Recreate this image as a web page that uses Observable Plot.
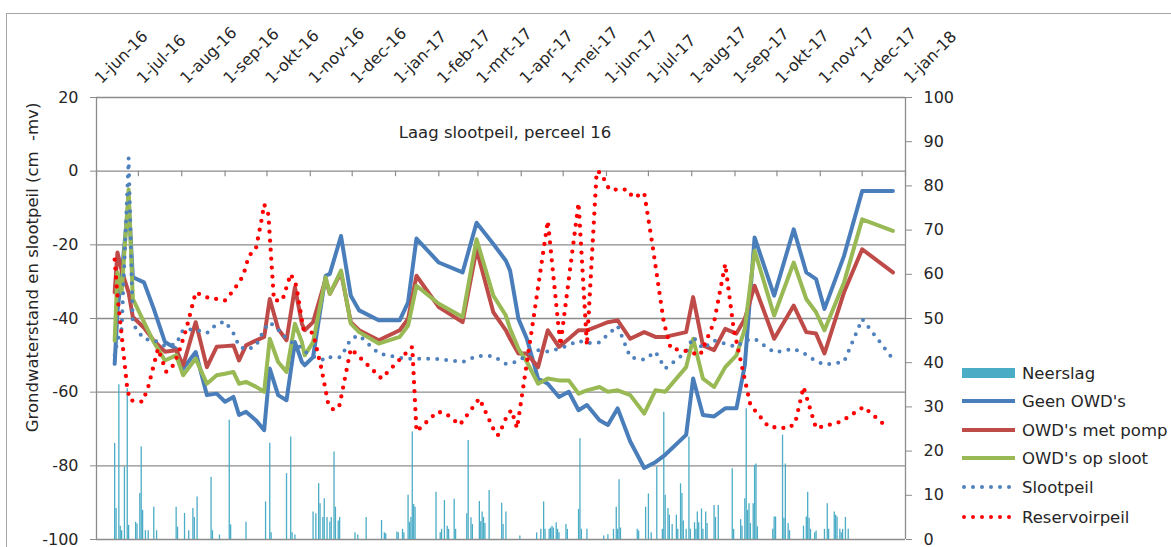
<!DOCTYPE html>
<html><head><meta charset="utf-8">
<script src="https://cdn.jsdelivr.net/npm/d3@7"></script>
<script src="https://cdn.jsdelivr.net/npm/@observablehq/plot@0.6"></script>
<style>
html,body{margin:0;padding:0;background:#fff;overflow:hidden}
#wrap{position:relative;width:1171px;height:547px;overflow:hidden;font-family:"DejaVu Sans",sans-serif;color:#262626;background:#fff}
#border{position:absolute;left:6px;top:13px;width:1300px;height:700px;border:1.5px solid #a6a6a6;box-sizing:border-box;z-index:5;pointer-events:none;background:none}
#chart{position:absolute;left:0;top:0;z-index:1}
#legend{position:absolute;left:958px;top:355px;z-index:2}
</style></head><body>
<div id="wrap"><div id="border"></div><div id="chart"></div>
<svg id="legend" width="213" height="180" font-family="DejaVu Sans" font-size="16.5" fill="#262626">
  <rect x="4" y="13" width="53" height="10" fill="#4BACC6"/>
  <text x="64" y="18" dominant-baseline="central">Neerslag</text>
  <line x1="4" x2="57" y1="46" y2="46" stroke="#4A7EBB" stroke-width="4"/>
  <text x="64" y="46" dominant-baseline="central">Geen OWD's</text>
  <line x1="4" x2="57" y1="75" y2="75" stroke="#BE4B48" stroke-width="4"/>
  <text x="64" y="75" dominant-baseline="central">OWD's met pomp</text>
  <line x1="4" x2="57" y1="103" y2="103" stroke="#98B954" stroke-width="4"/>
  <text x="64" y="103" dominant-baseline="central">OWD's op sloot</text>
  <line x1="6" x2="57" y1="132" y2="132" stroke="#4F81BD" stroke-width="4" stroke-linecap="round" stroke-dasharray="0 9"/>
  <text x="64" y="132" dominant-baseline="central">Slootpeil</text>
  <line x1="6" x2="57" y1="162" y2="162" stroke="#FF0000" stroke-width="4" stroke-linecap="round" stroke-dasharray="0 9"/>
  <text x="64" y="162" dominant-baseline="central">Reservoirpeil</text>
</svg>
</div>
<script>
// ---- tick labels ----
const maandDatums = ["2016-06-01","2016-07-01","2016-08-01","2016-09-01","2016-10-01","2016-11-01","2016-12-01","2017-01-01","2017-02-01","2017-03-01","2017-04-01","2017-05-01","2017-06-01","2017-07-01","2017-08-01","2017-09-01","2017-10-01","2017-11-01","2017-12-01","2018-01-01"];
const maandLabels = ["1-jun-16","1-jul-16","1-aug-16","1-sep-16","1-okt-16","1-nov-16","1-dec-16","1-jan-17","1-feb-17","1-mrt-17","1-apr-17","1-mei-17","1-jun-17","1-jul-17","1-aug-17","1-sep-17","1-okt-17","1-nov-17","1-dec-17","1-jan-18"];
const linksTicks = [20, 0, -20, -40, -60, -80, -100];
const rechtsTicks = [0, 10, 20, 30, 40, 50, 60, 70, 80, 90, 100];

// ---- groundwater measurements (cm -mv) ----
const meetDatums = ["2016-06-14","2016-06-16","2016-06-19","2016-06-24","2016-06-27","2016-07-05","2016-07-12","2016-07-20","2016-07-28","2016-08-02","2016-08-11","2016-08-19","2016-08-26","2016-09-01","2016-09-07","2016-09-11","2016-09-16","2016-09-23","2016-09-29","2016-10-03","2016-10-09","2016-10-15","2016-10-21","2016-10-26","2016-10-28","2016-11-03","2016-11-12","2016-11-15","2016-11-23","2016-11-30","2016-12-06","2016-12-20","2017-01-04","2017-01-10","2017-01-16","2017-02-01","2017-02-18","2017-02-28","2017-03-12","2017-03-21","2017-03-24","2017-03-30","2017-04-05","2017-04-13","2017-04-20","2017-04-28","2017-05-05","2017-05-12","2017-05-18","2017-05-27","2017-06-02","2017-06-09","2017-06-18","2017-06-28","2017-07-06","2017-07-13","2017-07-28","2017-08-02","2017-08-09","2017-08-17","2017-08-25","2017-09-02","2017-09-08","2017-09-15","2017-09-29","2017-10-13","2017-10-22","2017-10-29","2017-11-04","2017-11-18","2017-12-01","2017-12-23"];
const geenOWD = [-52.3,-38,-28,-8,-28.8,-30.2,-37.4,-46.4,-48.2,-53.6,-49.1,-60.8,-60.4,-62.6,-61.3,-66.2,-65.3,-67.6,-70.3,-53.6,-60.8,-62.2,-46.4,-51.8,-52.7,-50.5,-28.4,-27.9,-17.6,-33.8,-37.8,-40.5,-40.5,-35.6,-18.3,-24.8,-27.5,-14,-19.8,-24.3,-27,-40.1,-45.5,-56.3,-57.7,-61.3,-59.9,-64.9,-63.5,-67.6,-68.9,-64.4,-73.4,-80.6,-79,-77,-71.6,-56.3,-66.2,-66.6,-64.4,-64.4,-52.7,-18,-33.8,-15.8,-27.5,-29.3,-37.4,-23,-5.4,-5.4];
const owdMetPomp = [-32.9,-22.1,-27,-33,-39.6,-42.5,-46,-49,-48.6,-52.7,-41,-53.2,-47.7,-47.5,-47.3,-51.4,-47.3,-46,-45,-34.7,-42.8,-45.9,-31.5,-41.4,-43.2,-41,-29.3,-33.3,-27.5,-41,-43.2,-45.9,-43.2,-40.1,-28.4,-36.9,-41,-21.2,-38.3,-43.2,-45.5,-49.5,-49.5,-53.2,-43.2,-47.7,-45.5,-43.2,-43.2,-41.9,-41,-40.5,-45.5,-43.7,-45,-45,-43.7,-34.2,-47.3,-48.6,-42.8,-44.1,-40.1,-31.1,-45.5,-36.5,-43.7,-44.1,-49.5,-32.9,-21.2,-27.5];
const owdOpSloot = [-46,-27.5,-33,-5,-34.7,-41,-46.4,-51.4,-50,-55.4,-50.9,-57.7,-55.4,-55,-54.5,-57.7,-57.2,-58.5,-59.9,-45.5,-51.8,-54.5,-41.4,-46.4,-50,-46.4,-28.8,-33.3,-27,-41.4,-43.7,-46.8,-45,-41.9,-31.1,-36,-39.6,-18.5,-33.8,-39.2,-42.8,-48.2,-51.8,-57.7,-56.3,-56.8,-56.8,-60.4,-59.5,-58.6,-59.9,-59.5,-60.8,-65.8,-59.5,-59.9,-53.2,-45.5,-56.3,-58.6,-53.2,-50,-42.8,-21.6,-39.2,-24.8,-34.7,-38.3,-43.2,-30.2,-13.1,-16.2];
const slootpeil = [-50,-46,-42.8,3.6,-41.5,-45.6,-45.8,-47.5,-47,-43,-43,-44,-41.5,-40.8,-44,-47.5,-48.5,-47.5,-43,-41,-43,-45.5,-47,-48,-49,-50.3,-51.4,-50.5,-50.5,-45.5,-44.6,-49.5,-50.7,-50.9,-50.9,-51,-51.8,-50.2,-50.2,-52.3,-52.3,-51.5,-50,-48.6,-49,-48.2,-47.2,-46,-46.7,-46.5,-44.3,-42,-50.5,-51.2,-49,-53.6,-49.1,-45,-48.2,-46,-46.8,-47.7,-46,-45.5,-49.2,-48.2,-49.8,-51.6,-52.5,-51.8,-40.1,-51];

// ---- reservoir level (cm -mv) ----
const reservoirDatums = ["2016-06-14","2016-06-16","2016-06-23","2016-06-25","2016-07-04","2016-07-08","2016-07-15","2016-07-21","2016-07-26","2016-07-30","2016-08-04","2016-08-11","2016-08-18","2016-09-01","2016-09-07","2016-09-14","2016-09-18","2016-09-23","2016-09-27","2016-09-29","2016-10-02","2016-10-06","2016-10-12","2016-10-18","2016-10-22","2016-10-27","2016-11-03","2016-11-09","2016-11-14","2016-11-18","2016-11-22","2016-11-30","2016-12-22","2017-01-01","2017-01-13","2017-01-16","2017-01-31","2017-02-06","2017-02-16","2017-03-02","2017-03-14","2017-03-16","2017-03-22","2017-03-25","2017-03-29","2017-04-09","2017-04-20","2017-04-29","2017-05-12","2017-05-18","2017-05-25","2017-05-28","2017-06-03","2017-06-16","2017-06-20","2017-06-28","2017-07-04","2017-07-12","2017-07-17","2017-07-26","2017-08-07","2017-08-17","2017-08-25","2017-08-31","2017-09-12","2017-09-25","2017-10-09","2017-10-14","2017-10-20","2017-10-29","2017-11-16","2017-12-02","2017-12-17"];
const reservoirpeil = [-24,-33.8,-59,-62.2,-62.6,-58.6,-48.2,-54.5,-52.7,-49.1,-43.2,-32.9,-34.2,-35.1,-32.4,-28.4,-23,-21.2,-13.5,-9,-11.7,-35.1,-35.1,-27.9,-31.1,-42.8,-44,-53.6,-63.5,-64.9,-63.5,-48.2,-56.3,-52.3,-47.7,-70.7,-65.3,-65.8,-68.9,-61.7,-71.6,-71.6,-66.2,-64.9,-69.8,-41.9,-13.5,-47.3,-8.6,-47.3,0,-0.5,-5,-5,-7.2,-5.9,-20.3,-41,-48.2,-48.6,-50,-41,-25.2,-42.8,-63.5,-69.4,-69.8,-68.5,-58.6,-69.8,-68,-64,-68.9];

// ---- precipitation (mm/day, right axis) ----
const neerslagDatums = ["2016-06-14","2016-06-15","2016-06-17","2016-06-18","2016-06-19","2016-06-21","2016-06-23","2016-06-24","2016-06-29","2016-06-30","2016-07-02","2016-07-03","2016-07-04","2016-07-06","2016-07-08","2016-07-12","2016-07-14","2016-07-28","2016-07-29","2016-08-03","2016-08-06","2016-08-09","2016-08-10","2016-08-12","2016-08-22","2016-08-23","2016-08-28","2016-09-04","2016-09-05","2016-09-16","2016-09-30","2016-10-03","2016-10-04","2016-10-15","2016-10-18","2016-10-19","2016-10-21","2016-11-03","2016-11-05","2016-11-07","2016-11-08","2016-11-10","2016-11-11","2016-11-13","2016-11-15","2016-11-16","2016-11-18","2016-11-19","2016-11-21","2016-11-22","2016-12-03","2016-12-05","2016-12-11","2016-12-22","2016-12-24","2016-12-25","2017-01-02","2017-01-03","2017-01-06","2017-01-07","2017-01-10","2017-01-11","2017-01-12","2017-01-13","2017-01-14","2017-01-15","2017-01-30","2017-02-02","2017-02-03","2017-02-05","2017-02-07","2017-02-08","2017-02-12","2017-02-13","2017-02-21","2017-02-22","2017-02-24","2017-02-25","2017-03-02","2017-03-03","2017-03-04","2017-03-05","2017-03-06","2017-03-09","2017-03-18","2017-03-19","2017-03-21","2017-03-31","2017-04-12","2017-04-15","2017-04-17","2017-04-18","2017-04-21","2017-04-22","2017-04-23","2017-04-24","2017-04-26","2017-04-27","2017-04-28","2017-05-03","2017-05-04","2017-05-12","2017-05-13","2017-05-14","2017-05-18","2017-05-30","2017-06-02","2017-06-06","2017-06-08","2017-06-09","2017-06-10","2017-06-11","2017-06-23","2017-06-24","2017-06-29","2017-07-01","2017-07-03","2017-07-07","2017-07-11","2017-07-12","2017-07-13","2017-07-15","2017-07-16","2017-07-18","2017-07-21","2017-07-22","2017-07-24","2017-07-25","2017-07-26","2017-07-28","2017-07-30","2017-07-31","2017-08-03","2017-08-04","2017-08-05","2017-08-06","2017-08-08","2017-08-09","2017-08-11","2017-08-12","2017-08-17","2017-08-18","2017-08-20","2017-08-30","2017-08-31","2017-09-05","2017-09-06","2017-09-08","2017-09-09","2017-09-10","2017-09-11","2017-09-12","2017-09-14","2017-09-15","2017-09-16","2017-09-17","2017-09-28","2017-09-29","2017-09-30","2017-10-05","2017-10-06","2017-10-07","2017-10-09","2017-10-10","2017-10-20","2017-10-22","2017-10-23","2017-10-24","2017-10-25","2017-10-28","2017-10-29","2017-11-04","2017-11-06","2017-11-07","2017-11-11","2017-11-12","2017-11-13","2017-11-15","2017-11-16","2017-11-17","2017-11-19","2017-11-21"];
const neerslagMm = [21.7,7,35,3,2,16.4,34.1,3.2,3.9,3.5,10.4,20.9,6.6,2,2,7.3,2,7.3,2.8,5.9,2,7,5,9.6,14.1,2,1,27,3.3,3.9,8.5,21.8,1.5,14.9,23.2,1.5,1,6.2,5.8,12.6,8.1,5,9.2,5,3.9,5,19.8,7.3,4.2,5,1.5,1,5,4.3,1.5,1.3,1.7,1.5,2.3,1.5,10,3.9,5,24.3,7.9,7.3,10.7,1.5,2.3,8.8,3,2.3,9.1,2.3,5.8,22.4,4.9,3.4,8.6,4,6.2,5,3.6,11.1,8.2,3.4,6.2,0.8,1.5,2.3,8.5,2.3,2.3,2.6,3,2.6,3.8,2.3,1.5,3.4,2.3,6.8,22.8,2.3,2.3,0.8,1.1,2.3,7.3,2.3,13.5,2.6,2.3,1.9,7.3,10.3,1.5,16.4,2.3,28.8,10,7,5.5,3.4,5.5,2.3,12.6,10.4,4.2,2.3,23.2,2.3,3.8,2.3,6.2,3.8,6.9,2.3,6.2,3.6,7.7,5,7.7,16,2.3,4.5,3,9.2,29.6,6.6,8.1,3.6,8.1,16.8,17.1,2.9,2.3,5.1,5.1,23.6,4.8,17.1,3.6,2,3,5.1,10.7,4.8,2.3,1.5,1.9,2.3,8.1,2.3,6.2,5.5,5.1,2.3,1.5,2.3,5,2.3];

// ---- build tables ----
const parse = s => new Date(s + "T00:00:00Z");
const toLeft = mm => -100 + mm * 1.2; // secondary axis 0..100 mapped onto -100..20
const series = (dates, vals) => dates.map((d, i) => ({date: parse(d), v: vals[i]}));
const geen = series(meetDatums, geenOWD);
const pomp = series(meetDatums, owdMetPomp);
const sloot = series(meetDatums, owdOpSloot);
const slootP = series(meetDatums, slootpeil);
const reserv = series(reservoirDatums, reservoirpeil);
const neerslag = neerslagDatums.map((d, i) => ({date: parse(d), mm: neerslagMm[i]}));
const maanden = maandDatums.map(parse);
const grid = "#8c8c8c";
const ink = "#262626";

const chart = Plot.plot({
  width: 1171,
  height: 547,
  marginLeft: 96,
  marginRight: 266,
  marginTop: 97,
  marginBottom: 8,
  style: {fontFamily: "DejaVu Sans", fontSize: "16px", color: ink, background: "transparent", overflow: "visible"},
  x: {type: "utc", domain: [maanden[0], maanden[maanden.length - 1]], axis: null},
  y: {domain: [-100, 20], axis: null},
  marks: [
    Plot.ruleY(linksTicks, {stroke: grid, strokeWidth: 1.3}),
    Plot.ruleX([maanden[0], maanden[maanden.length - 1]], {stroke: grid, strokeWidth: 1.3}),
    Plot.ruleX(maanden, {x: d => d, y1: 0, y2: -1.5, stroke: grid, strokeWidth: 1.2}),
    Plot.ruleX(neerslag, {x: "date", y1: -100, y2: d => toLeft(d.mm), stroke: "#4BACC6", strokeWidth: 1.3}),
    Plot.line(geen, {x: "date", y: "v", stroke: "#4A7EBB", strokeWidth: 4, strokeLinejoin: "round"}),
    Plot.line(pomp, {x: "date", y: "v", stroke: "#BE4B48", strokeWidth: 4, strokeLinejoin: "round"}),
    Plot.line(sloot, {x: "date", y: "v", stroke: "#98B954", strokeWidth: 4, strokeLinejoin: "round"}),
    Plot.line(slootP, {x: "date", y: "v", stroke: "#4F81BD", strokeWidth: 4, strokeLinecap: "round", strokeDasharray: "0 9"}),
    Plot.line(reserv, {x: "date", y: "v", stroke: "#FF0000", strokeWidth: 4.3, strokeLinecap: "round", strokeDasharray: "0 9"}),
    Plot.axisY(linksTicks, {anchor: "left", tickFormat: d => String(d), tickSize: 6, tickPadding: 12, stroke: grid, fill: ink, fontSize: 16, label: null}),
    Plot.axisY(rechtsTicks.map(toLeft), {anchor: "right", tickFormat: v => String(Math.round((v + 100) / 1.2)), tickSize: 6, tickPadding: 12, stroke: grid, fill: ink, fontSize: 16, label: null}),
    Plot.text(maanden, {x: d => d, text: (d, i) => maandLabels[i], frameAnchor: "top", dx: -3, dy: -21, rotate: -45, textAnchor: "start", fontSize: 16, fill: ink}),
    Plot.text(["Laag slootpeil, perceel 16"], {frameAnchor: "top", dx: 4, dy: 29, fontSize: 16.5, fill: ink}),
    Plot.text(["Grondwaterstand en slootpeil (cm\u00a0 -mv)"], {frameAnchor: "left", dx: -64, dy: -51, rotate: -90, textAnchor: "middle", fontSize: 16.5, fill: ink})
  ]
});
document.getElementById("chart").appendChild(chart);
</script>
</body></html>
